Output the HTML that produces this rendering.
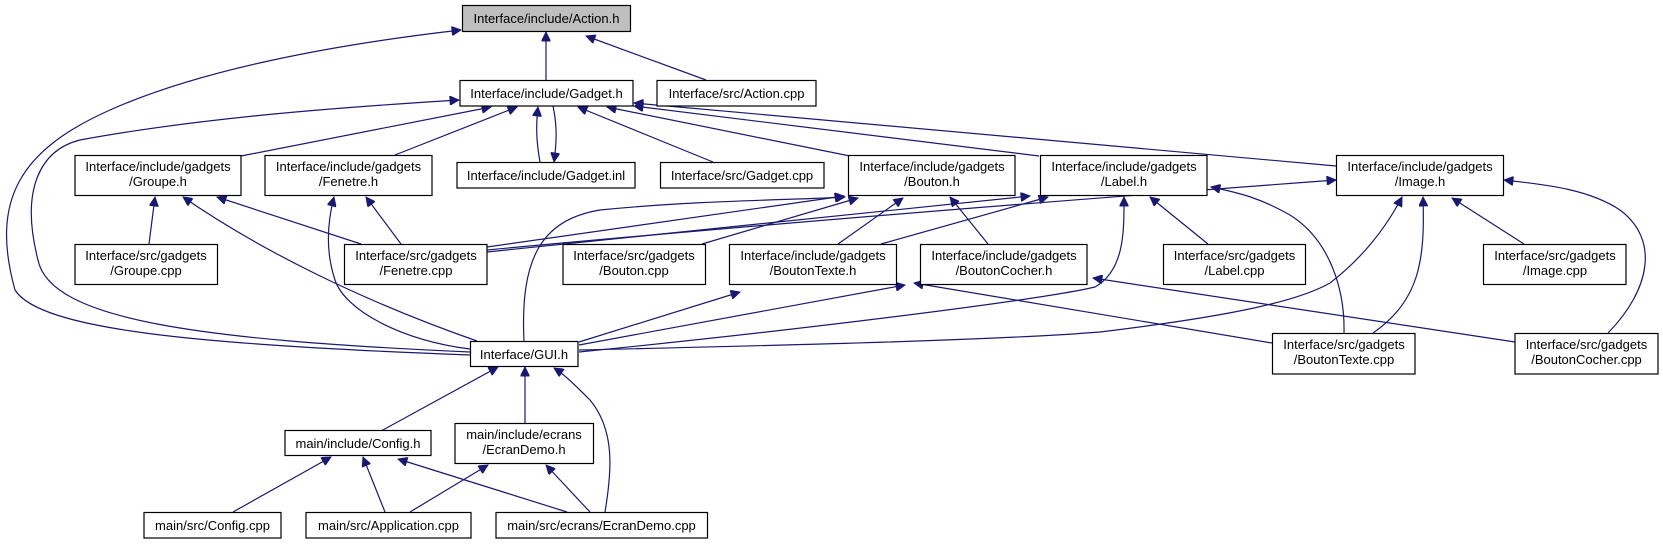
<!DOCTYPE html>
<html><head><meta charset="utf-8"><style>
html,body{margin:0;padding:0;background:#fff;}
svg{display:block;}
text{font-family:"Liberation Sans",Arial,sans-serif;font-size:13px;fill:#000;}
.b{fill:#fff;stroke:#000;stroke-width:1.2;}
.e{fill:none;stroke:#191970;stroke-width:1.2;}
</style></head><body>
<svg width="1663" height="544" viewBox="0 0 1663 544" xmlns="http://www.w3.org/2000/svg">
<defs><marker id="a" viewBox="0 0 10 10" refX="10" refY="5" markerWidth="11" markerHeight="9" markerUnits="userSpaceOnUse" orient="auto"><path d="M0,0 L10,5 L0,10 z" fill="#191970" stroke="#191970"/></marker></defs>
<g class="e" marker-end="url(#a)">
<path d="M546,80 L546,32"/>
<path d="M706,80 L586,36"/>
<path d="M470,355 C200,345 40,330 15,290 C-10,200 20,150 110,110 C200,70 330,45 461,30"/>
<path d="M241,156 L491,107"/>
<path d="M395,155 L517,107"/>
<path d="M540,162 C536,140 536,125 538,107"/>
<path d="M553,106 C557,125 557,140 554,162"/>
<path d="M713,162 L578,107"/>
<path d="M850,156 L607,107"/>
<path d="M1039,156 L634,106"/>
<path d="M1336,166 L634,103"/>
<path d="M470,352 C200,340 50,320 38,260 C20,190 40,150 80,140 C200,118 330,108 459,100"/>
<path d="M149,244 L155,197"/>
<path d="M477,341 C360,300 260,250 183,197"/>
<path d="M361,244 L217,197"/>
<path d="M401,244 L366,197"/>
<path d="M470,349 C400,340 345,310 335,280 C325,250 328,220 334,197"/>
<path d="M487,247 L844,196"/>
<path d="M487,252 L1030,196"/>
<path d="M487,250 C700,230 1000,205 1336,180"/>
<path d="M524,342 C520,260 540,220 600,210 C700,200 800,200 845,197"/>
<path d="M702,244 L858,198"/>
<path d="M838,244 L903,198"/>
<path d="M988,244 L950,197"/>
<path d="M881,244 L1048,197"/>
<path d="M579,352 C800,330 1040,300 1095,287 C1125,270 1124,230 1124,197"/>
<path d="M579,342 L740,292"/>
<path d="M579,345 L905,285"/>
<path d="M1272,343 L914,283"/>
<path d="M1515,342 L1093,278"/>
<path d="M579,350 C800,345 1000,340 1100,332 C1240,315 1300,300 1330,283 C1360,260 1385,230 1402,197"/>
<path d="M1344,333 C1345,290 1330,240 1290,215 C1260,198 1240,193 1211,187"/>
<path d="M1373,333 C1420,300 1425,260 1423,197"/>
<path d="M1208,244 L1150,197"/>
<path d="M1524,244 L1452,198"/>
<path d="M1608,333 C1650,290 1660,240 1620,210 C1590,190 1550,185 1504,180"/>
<path d="M381,431 L498,367"/>
<path d="M525,423 L525,367"/>
<path d="M605,512 C612,470 615,430 590,400 C575,385 565,375 554,368"/>
<path d="M233,512 L331,457"/>
<path d="M385,512 L363,457"/>
<path d="M567,512 L398,459"/>
<path d="M410,512 L488,465"/>
<path d="M590,512 L546,465"/>
</g>
<g>
<rect x="462.5" y="5.5" width="168" height="26" fill="#bfbfbf" stroke="#000" stroke-width="1.2"/><text x="546.5" y="23" text-anchor="middle">Interface/include/Action.h</text>
<rect class="b" x="460" y="80.5" width="173" height="25.5"/><text x="546.5" y="98" text-anchor="middle">Interface/include/Gadget.h</text>
<rect class="b" x="657" y="80.5" width="159" height="25.5"/><text x="736.5" y="98" text-anchor="middle">Interface/src/Action.cpp</text>
<rect class="b" x="75" y="155.5" width="166" height="40"/><text x="158" y="171" text-anchor="middle">Interface/include/gadgets</text><text x="158" y="186" text-anchor="middle">/Groupe.h</text>
<rect class="b" x="265" y="155.5" width="167" height="40"/><text x="348.5" y="171" text-anchor="middle">Interface/include/gadgets</text><text x="348.5" y="186" text-anchor="middle">/Fenetre.h</text>
<rect class="b" x="457" y="162.5" width="178" height="25.5"/><text x="546" y="180" text-anchor="middle">Interface/include/Gadget.inl</text>
<rect class="b" x="660.5" y="162.5" width="163.5" height="25.5"/><text x="742" y="180" text-anchor="middle">Interface/src/Gadget.cpp</text>
<rect class="b" x="848.5" y="155.5" width="166.5" height="40"/><text x="932" y="171" text-anchor="middle">Interface/include/gadgets</text><text x="932" y="186" text-anchor="middle">/Bouton.h</text>
<rect class="b" x="1040.5" y="155.5" width="166.5" height="40"/><text x="1124" y="171" text-anchor="middle">Interface/include/gadgets</text><text x="1124" y="186" text-anchor="middle">/Label.h</text>
<rect class="b" x="1336.5" y="155.5" width="167" height="40"/><text x="1420" y="171" text-anchor="middle">Interface/include/gadgets</text><text x="1420" y="186" text-anchor="middle">/Image.h</text>
<rect class="b" x="75" y="244.5" width="142.5" height="40"/><text x="146" y="260" text-anchor="middle">Interface/src/gadgets</text><text x="146" y="275" text-anchor="middle">/Groupe.cpp</text>
<rect class="b" x="344.5" y="244.5" width="142.5" height="40"/><text x="416" y="260" text-anchor="middle">Interface/src/gadgets</text><text x="416" y="275" text-anchor="middle">/Fenetre.cpp</text>
<rect class="b" x="563" y="244.5" width="142.5" height="40"/><text x="634" y="260" text-anchor="middle">Interface/src/gadgets</text><text x="634" y="275" text-anchor="middle">/Bouton.cpp</text>
<rect class="b" x="729.5" y="244.5" width="167" height="40"/><text x="813" y="260" text-anchor="middle">Interface/include/gadgets</text><text x="813" y="275" text-anchor="middle">/BoutonTexte.h</text>
<rect class="b" x="920.5" y="244.5" width="166.5" height="40"/><text x="1004" y="260" text-anchor="middle">Interface/include/gadgets</text><text x="1004" y="275" text-anchor="middle">/BoutonCocher.h</text>
<rect class="b" x="1163.5" y="244.5" width="142" height="40"/><text x="1234.5" y="260" text-anchor="middle">Interface/src/gadgets</text><text x="1234.5" y="275" text-anchor="middle">/Label.cpp</text>
<rect class="b" x="1483.5" y="244.5" width="142.5" height="40"/><text x="1555" y="260" text-anchor="middle">Interface/src/gadgets</text><text x="1555" y="275" text-anchor="middle">/Image.cpp</text>
<rect class="b" x="470.5" y="341.5" width="107.5" height="25"/><text x="524" y="359" text-anchor="middle">Interface/GUI.h</text>
<rect class="b" x="1272.5" y="333.5" width="142.5" height="40.5"/><text x="1344" y="349" text-anchor="middle">Interface/src/gadgets</text><text x="1344" y="364" text-anchor="middle">/BoutonTexte.cpp</text>
<rect class="b" x="1515" y="333.5" width="143" height="40.5"/><text x="1586.5" y="349" text-anchor="middle">Interface/src/gadgets</text><text x="1586.5" y="364" text-anchor="middle">/BoutonCocher.cpp</text>
<rect class="b" x="285" y="430.5" width="146" height="25"/><text x="358" y="448" text-anchor="middle">main/include/Config.h</text>
<rect class="b" x="455" y="423.5" width="138.5" height="40"/><text x="524" y="439" text-anchor="middle">main/include/ecrans</text><text x="524" y="454" text-anchor="middle">/EcranDemo.h</text>
<rect class="b" x="144" y="512.5" width="137" height="25.5"/><text x="212.5" y="530" text-anchor="middle">main/src/Config.cpp</text>
<rect class="b" x="306" y="512.5" width="165" height="25.5"/><text x="388.5" y="530" text-anchor="middle">main/src/Application.cpp</text>
<rect class="b" x="496" y="512.5" width="211.5" height="25.5"/><text x="601.5" y="530" text-anchor="middle">main/src/ecrans/EcranDemo.cpp</text>
</g>
</svg>
</body></html>
